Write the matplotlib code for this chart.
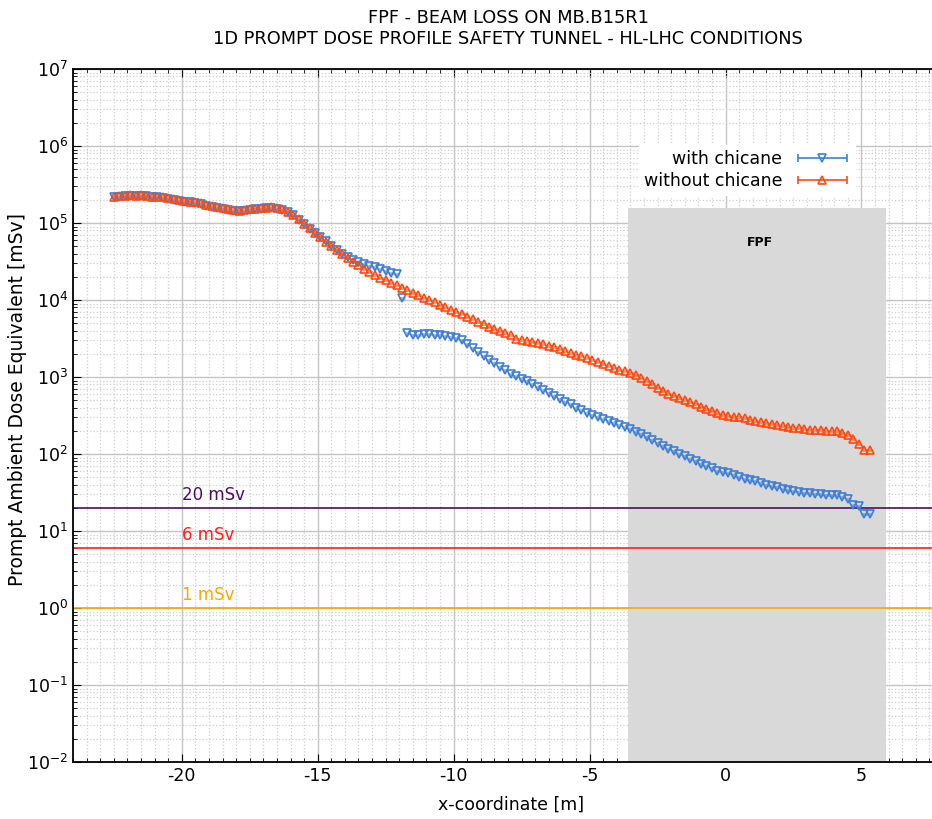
import numpy as np
import matplotlib
matplotlib.use("Agg")
import matplotlib.pyplot as plt
from matplotlib.ticker import MultipleLocator, LogLocator, NullFormatter
from matplotlib.legend_handler import HandlerErrorbar

plt.rcParams['axes.unicode_minus'] = False
plt.rcParams['font.family'] = ['DejaVu Sans']

# bin centres (0.2 m bins)
x_start, x_step, n_bins = -22.5, 0.2, 140
x = np.round(x_start + x_step * np.arange(n_bins), 2)

without_chicane = [
    2.20e5, 2.25e5, 2.25e5, 2.30e5, 2.25e5, 2.30e5, 2.25e5, 2.20e5, 2.20e5, 2.15e5,
    2.10e5, 2.05e5, 2.00e5, 1.95e5, 1.90e5, 1.85e5, 1.80e5, 1.72e5, 1.65e5, 1.60e5,
    1.55e5, 1.50e5, 1.47e5, 1.45e5, 1.47e5, 1.50e5, 1.52e5, 1.55e5, 1.58e5, 1.60e5,
    1.55e5, 1.50e5, 1.40e5, 1.28e5, 1.12e5, 9.8e4, 8.5e4, 7.4e4, 6.5e4, 5.7e4,
    5.0e4, 4.4e4, 3.9e4, 3.5e4, 3.15e4, 2.85e4, 2.55e4, 2.30e4, 2.10e4, 1.95e4,
    1.80e4, 1.65e4, 1.55e4, 1.45e4, 1.35e4, 1.25e4, 1.15e4, 1.07e4, 1.00e4, 9.3e3,
    8.6e3, 8.0e3, 7.5e3, 7.0e3, 6.5e3, 6.0e3, 5.6e3, 5.2e3, 4.9e3, 4.5e3,
    4.2e3, 3.9e3, 3.7e3, 3.5e3, 3.15e3, 3.05e3, 2.95e3, 2.85e3, 2.75e3, 2.65e3,
    2.55e3, 2.45e3, 2.30e3, 2.20e3, 2.05e3, 1.95e3, 1.85e3, 1.75e3, 1.65e3, 1.55e3,
    1.48e3, 1.40e3, 1.32e3, 1.25e3, 1.18e3, 1.12e3, 1.05e3, 9.8e2, 9.0e2, 8.0e2,
    7.1e2, 6.5e2, 6.0e2, 5.6e2, 5.3e2, 5.0e2, 4.7e2, 4.4e2, 4.1e2, 3.8e2,
    3.6e2, 3.4e2, 3.25e2, 3.15e2, 3.05e2, 3.0e2, 2.9e2, 2.8e2, 2.7e2, 2.6e2,
    2.5e2, 2.45e2, 2.4e2, 2.3e2, 2.25e2, 2.2e2, 2.15e2, 2.1e2, 2.08e2, 2.05e2,
    2.02e2, 2.0e2, 2.0e2, 2.0e2, 1.85e2, 1.75e2, 1.55e2, 1.35e2, 1.12e2, 1.12e2,
]

with_chicane = [
    2.15e5, 2.20e5, 2.22e5, 2.25e5, 2.22e5, 2.25e5, 2.22e5, 2.18e5, 2.15e5, 2.12e5,
    2.05e5, 2.00e5, 1.95e5, 1.90e5, 1.85e5, 1.80e5, 1.75e5, 1.68e5, 1.60e5, 1.55e5,
    1.50e5, 1.46e5, 1.43e5, 1.42e5, 1.44e5, 1.47e5, 1.50e5, 1.53e5, 1.56e5, 1.58e5,
    1.53e5, 1.48e5, 1.38e5, 1.26e5, 1.10e5, 9.7e4, 8.4e4, 7.4e4, 6.5e4, 5.8e4,
    5.1e4, 4.5e4, 4.0e4, 3.6e4, 3.3e4, 3.1e4, 2.95e4, 2.8e4, 2.65e4, 2.5e4,
    2.35e4, 2.25e4, 2.2e4, 1.05e4, 3.7e3, 3.5e3, 3.55e3, 3.6e3, 3.6e3, 3.55e3,
    3.5e3, 3.4e3, 3.3e3, 3.2e3, 3.0e3, 2.7e3, 2.4e3, 2.1e3, 1.85e3, 1.65e3,
    1.5e3, 1.35e3, 1.22e3, 1.1e3, 1.02e3, 9.5e2, 8.8e2, 8.1e2, 7.5e2, 6.8e2,
    6.2e2, 5.7e2, 5.2e2, 4.8e2, 4.4e2, 4.0e2, 3.7e2, 3.45e2, 3.2e2, 3.0e2,
    2.85e2, 2.7e2, 2.55e2, 2.4e2, 2.25e2, 2.1e2, 1.95e2, 1.8e2, 1.65e2, 1.5e2,
    1.38e2, 1.27e2, 1.17e2, 1.08e2, 1.0e2, 93, 86, 80, 74, 69,
    65, 61, 58, 56, 53, 50, 48, 46, 44, 42,
    40, 38, 37, 35, 34, 33, 32, 31.5, 31, 30.5,
    30, 29.5, 29.5, 29.5, 28, 26, 22, 21, 16.5, 16.5,
]

limit_values = [20, 6, 1]
limit_labels = ["20 mSv", "6 mSv", "1 mSv"]
limit_colors = ["#4a1060", "#ff2020", "#ffa500"]

fpf_xmin, fpf_xmax, fpf_top = -3.6, 5.9, 1.57e5

blue = "#3f7fd6"
orange = "#ff4a10"

fig = plt.figure(figsize=(9.32, 8.19), dpi=100)
ax = fig.add_axes([73/932, 1 - 762/819, 870/932, (762-69)/819])

ax.set_yscale('log')
ax.set_xlim(-24, 8)
ax.set_ylim(1e-2, 1e7)

# grid
ax.xaxis.set_major_locator(MultipleLocator(5))
ax.xaxis.set_minor_locator(MultipleLocator(0.5))
ax.yaxis.set_major_locator(LogLocator(base=10, numticks=20))
ax.yaxis.set_minor_locator(LogLocator(base=10, subs=np.arange(2, 10), numticks=20))
ax.yaxis.set_minor_formatter(NullFormatter())
ax.grid(True, which='major', color='#c4c4c4', linewidth=1.0, linestyle='-', zorder=0)
ax.grid(True, which='minor', color='#cfcfcf', linewidth=0.9, linestyle=':', zorder=0)
ax.set_axisbelow(True)

# FPF region
ax.fill_between([fpf_xmin, fpf_xmax], 1e-2, fpf_top, color='#d9d9d9', linewidth=0, zorder=1)
ax.text((fpf_xmin + fpf_xmax) / 2 + 0.1, 5.6e4, "FPF", fontsize=9, fontweight='bold',
        ha='center', va='center', zorder=2)

# limit lines
for val, lab, col in zip(limit_values, limit_labels, limit_colors):
    ax.axhline(val, color=col, linewidth=1.2, zorder=2)
    ax.text(-20, val * 1.12, lab, color=col, fontsize=12, ha='left', va='bottom', zorder=2)

xerr = x_step / 2
for yv, col, mk in [(with_chicane, blue, 'v'), (without_chicane, orange, '^')]:
    ax.errorbar(x, yv, xerr=xerr, fmt=mk, color=col, mfc='none', mec=col, ms=6, mew=1.2,
                ecolor=matplotlib.colors.to_rgba(col, 0.55), elinewidth=2.0, capsize=0,
                zorder=3)

# legend handles with caps
h1 = ax.errorbar([np.nan], [np.nan], xerr=[1], fmt='v', color=blue, mfc='none', mec=blue,
                 ms=6, mew=1.2, elinewidth=1.2, capsize=3, label='with chicane')
h2 = ax.errorbar([np.nan], [np.nan], xerr=[1], fmt='^', color=orange, mfc='none', mec=orange,
                 ms=6, mew=1.2, elinewidth=1.2, capsize=3, label='without chicane')
leg = ax.legend(handles=[h1, h2], loc='upper right', bbox_to_anchor=(864/932, 1 - 136/819),
                bbox_transform=fig.transFigure, markerfirst=False, frameon=True,
                fontsize=12.5, handlelength=3.2, borderpad=0.3, labelspacing=0.25,
                handletextpad=0.7, fancybox=False, framealpha=1.0,
                handler_map={type(h1): HandlerErrorbar(xerr_size=1.42)})
leg.get_frame().set_edgecolor('white')
leg.get_frame().set_facecolor('white')
leg.set_zorder(5)

ax.tick_params(axis='both', which='both', direction='in', top=True, right=False)
ax.tick_params(axis='both', which='major', length=6, labelsize=12.5)
ax.tick_params(axis='both', which='minor', length=3)
for s in ['left', 'bottom', 'top']:
    ax.spines[s].set_linewidth(1.3)

ax.set_xlabel("x-coordinate [m]", fontsize=12.5)
ax.xaxis.set_label_coords((511-73)/870, -(796-762)/693)
ax.set_ylabel("Prompt Ambient Dose Equivalent [mSv]", fontsize=13.5)
ax.yaxis.set_label_coords(-(73-27)/870, (762-400)/693)
ax.set_title("FPF - BEAM LOSS ON MB.B15R1\n1D PROMPT DOSE PROFILE SAFETY TUNNEL - HL-LHC CONDITIONS",
             fontsize=12.8, pad=18, x=(508-73)/870)

fig.savefig("out.png", dpi=100)
